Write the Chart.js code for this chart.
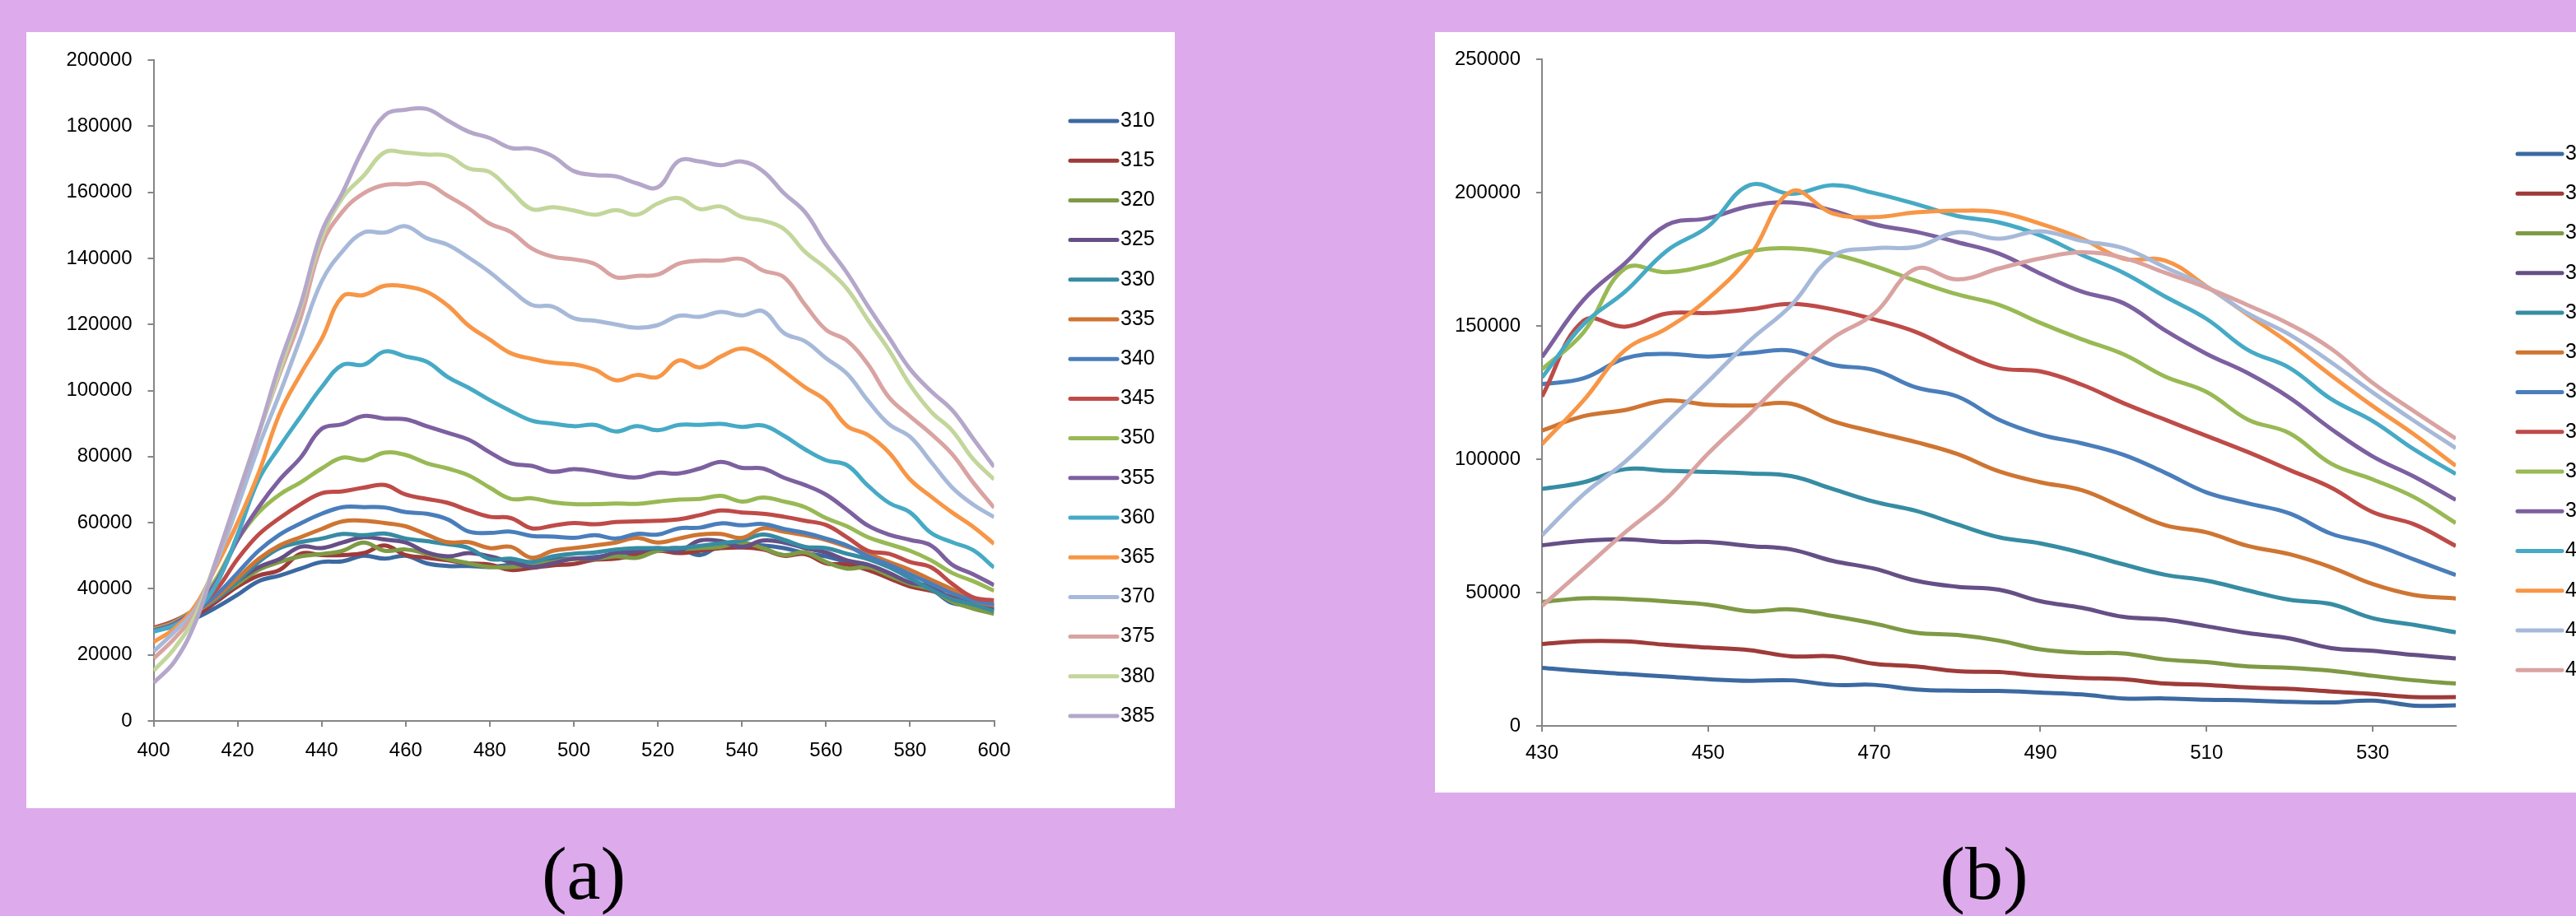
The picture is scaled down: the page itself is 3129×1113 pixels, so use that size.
<!DOCTYPE html>
<html>
<head>
<meta charset="utf-8">
<script src="https://cdn.jsdelivr.net/npm/chart.js@4.4.0/dist/chart.umd.min.js"></script>
<style>
  html, body { margin: 0; padding: 0; width: 3129px; height: 1113px; overflow: hidden; background: #DDAAEC; }
  .box { position: absolute; background: #fff; overflow: hidden; }
  #boxA { left: 32px; top: 39px; width: 1395px; height: 943px; }
  #boxB { left: 1743px; top: 39px; width: 1457px; height: 924px; }
  .tag { position: absolute; top: 1015px; width: 200px; text-align: center;
         font-family: "Liberation Serif", "Times New Roman", serif; font-size: 92px; line-height: 92px; color: #000; }
</style>
</head>
<body>
<div class="box" id="boxA"><canvas id="chartA" width="1395" height="943"></canvas></div>
<div class="box" id="boxB"><canvas id="chartB" width="1457" height="924"></canvas></div>
<div class="tag" style="left:609px">(a)</div>
<div class="tag" style="left:2310px">(b)</div>
<script>
// Panel (a): emission 400-600 nm, one series per excitation wavelength
const emA = [400,405,410,415,420,425,430,435,440,445,450,455,460,465,470,475,480,485,490,495,500,
             505,510,515,520,525,530,535,540,545,550,555,560,565,570,575,580,585,590,595,600];
const xTicksA = [400,420,440,460,480,500,520,540,560,580,600];
const yTicksA = [0,20000,40000,60000,80000,100000,120000,140000,160000,180000,200000];

const a310 = [27400,28600,31100,34400,38200,42300,44000,46100,48100,48300,50000,49100,50000,47700,46900,46900,46600,47300,48100,49000,49100,49600,50600,51000,51600,52300,50200,53100,53100,53100,52300,50800,49800,48100,46500,44400,41100,39800,35700,35300,34900];
const a315 = [27600,29900,32000,36100,40700,44000,45700,50600,50200,50200,50800,53100,50200,49400,48600,47700,47300,45700,46300,47100,47500,48800,49100,50200,51500,50800,51500,52300,52500,51900,50000,50500,47700,47300,45700,43200,40700,39400,37400,35300,33600];
const a320 = [27800,29900,33600,37400,41500,45700,48100,49800,50500,51500,54000,51500,51900,50600,49000,47700,46600,46600,47300,48100,49000,49000,49800,49400,51500,51900,52300,52700,54000,52300,50200,51000,48100,46100,46500,44000,41500,39800,36100,34000,32400];
const a325 = [27400,29500,32800,36900,42300,46500,49000,52700,52300,54000,55600,54900,54000,51000,49800,50800,49800,48100,46600,47700,49100,49100,51000,51300,52300,51500,54600,54400,52700,54600,54000,52300,51000,48600,47300,44800,41900,40700,36900,35700,34000];
const a330 = [27800,30300,33200,36900,42300,48100,52300,54100,55200,56600,56200,56700,55200,54400,53500,52300,49000,49100,48100,49800,50600,51000,51900,52300,52300,52300,53000,53800,54600,56400,54800,52700,52300,50600,49000,46500,43200,39800,36900,35300,33200];
const a335 = [27400,29500,32800,37400,43200,49000,53100,55600,58100,60400,60600,59900,58900,56400,54100,54100,52300,52700,49400,51500,52300,53100,54000,55400,54000,55200,56400,56600,55400,58300,57300,56200,54800,52700,50600,48100,45700,42700,39800,36500,34900];
const a340 = [27800,29900,33200,38200,44800,51500,56400,59800,62700,64700,64700,64600,63200,62700,61000,57300,56900,57300,56000,55800,55400,56200,55200,56600,56400,58300,58500,59800,59200,59600,58100,56900,55200,53100,49800,47300,44400,41500,38600,36500,35300];
const a345 = [28200,30300,34000,39800,49000,56400,61400,65600,68900,69500,70600,71400,68500,67200,66000,63700,61800,61400,58300,59100,59900,59500,60200,60400,60600,61000,62300,63700,63100,62700,61800,60600,59300,55600,51500,50600,48100,46500,41500,37400,36500];
const a350 = [27800,29900,34400,43200,54800,63100,68500,72200,76400,79700,78900,81200,80500,78000,76400,74300,70600,67200,67400,66200,65600,65600,65800,65700,66400,67000,67200,68100,66400,67600,66400,64700,61400,58900,55600,53500,51500,48600,44800,42300,39400];
const a355 = [27400,29500,34000,42300,54800,64700,73000,79700,88400,89800,92300,91500,91300,89200,87200,85100,81300,78000,77200,75400,76200,75500,74300,73700,75100,74900,76400,78400,76600,76400,73600,71400,68500,63900,59100,56400,54800,53100,47300,44400,41100];
const a360 = [27000,29000,33200,41500,56400,73000,83000,92100,101000,107800,107800,111800,110300,108700,104100,100800,97100,93800,90900,90000,89200,89600,87600,89200,88000,89600,89600,89900,89000,89400,86300,82200,78900,77400,71200,66000,63100,56900,54100,51700,46400];
const a365 = [23900,28000,35000,47000,60000,75000,93000,105000,115600,128500,128900,131700,131500,129900,125700,119600,115400,111300,109600,108400,107900,106300,103100,104700,104100,109100,107000,110300,112700,110300,105800,101000,96900,89300,86500,81200,73100,67900,63100,58800,53600];
const a370 = [21000,27000,34000,48000,65000,83000,99000,116000,133000,142200,147800,147800,149700,146100,144100,140200,135800,130600,125900,125400,121900,121100,120000,119000,119800,122600,122300,123800,122700,124000,117400,114900,109800,105100,96900,89800,86000,78400,70700,65500,61700];
const a375 = [18900,25000,33000,49000,68000,87000,105000,122000,144000,154200,159700,162200,162400,162600,158900,155100,150500,148000,143000,140500,139700,138300,134300,134700,135100,138400,139300,139300,139800,136300,134300,126000,118400,115100,107900,97900,92200,86900,80800,72200,64500];
const a380 = [15200,22000,32000,49000,68000,87000,106000,125000,146000,158400,165000,172100,172000,171400,171000,167200,166100,160400,154900,155500,154500,153200,154600,153200,156600,158200,154900,155700,152500,151400,148900,142000,137000,130800,121300,112200,101700,93600,87900,79300,73100];
const a385 = [11500,18000,30000,49000,68000,87000,108000,126000,148000,160000,173400,183300,185000,185200,181700,178300,176400,173400,173200,170900,166400,165200,164800,162700,161500,169500,169300,168200,169300,166400,159700,154000,144200,135600,125500,116000,106500,99800,94100,85500,76900];

const namesA = ['310','315','320','325','330','335','340','345','350','355','360','365','370','375','380','385'];
const seriesA = [a310,a315,a320,a325,a330,a335,a340,a345,a350,a355,a360,a365,a370,a375,a380,a385];

// Panel (b): emission 430-540 nm
const emB = [430,435,440,445,450,455,460,465,470,475,480,485,490,495,500,505,510,515,520,525,530,535,540];
const xTicksB = [430,450,470,490,510,530];
const yTicksB = [0,50000,100000,150000,200000,250000];

const b350 = [21800,20500,19500,18500,17500,16900,17100,15400,15400,13700,13200,13100,12500,11800,10300,10300,9800,9600,9000,8800,9500,7600,7700];
const b355 = [30700,31800,31700,30400,29400,28400,26100,26100,23300,22300,20500,20200,18800,18000,17500,15900,15400,14400,13900,12900,12000,10800,10800];
const b360 = [46500,47900,47600,46700,45500,43000,43700,41200,38400,35000,34100,32000,28700,27400,27200,24900,23900,22300,21800,20700,18800,17100,15900];
const b365 = [67800,69400,70000,69000,69000,67500,66200,61900,59000,54500,52200,51100,46800,44300,40900,39900,37400,34800,32800,29200,28200,26600,25300];
const b370 = [88900,91400,96300,95700,95300,94700,93700,88900,84100,80700,75600,70800,68500,64900,60600,56700,54500,50800,47300,45700,40400,37900,35100];
const b375 = [110800,116200,118500,122100,120500,120200,120900,114400,110300,106500,102000,95500,91400,88400,81800,75300,72600,67500,64400,59500,53200,49100,47800];
const b380 = [128200,130400,137900,139600,138600,139900,140800,135500,133500,127000,123600,114900,109300,106000,101700,95000,87600,83500,79700,72100,68200,62400,56600];
const b385 = [123600,152000,149800,154700,154900,156300,158300,156300,152500,147800,140400,134300,133000,128000,121100,114900,108800,102700,96000,89400,80200,75600,67500];
const b390 = [133800,147600,171600,170200,172900,178000,179200,177000,172600,167000,161900,158000,151200,145000,139400,131100,125300,114900,109800,98400,92500,85800,76100];
const b395 = [138400,159800,173600,187900,190500,195000,196400,193300,188200,185400,181500,177200,169700,162900,158600,148400,139600,132300,123100,111400,101100,93500,84800];
const b400 = [130700,150700,162900,178200,187400,202900,199600,202900,199900,195800,191300,188900,184000,176700,170000,161100,152700,141000,134300,122600,114400,103700,94500];
const b405 = [105700,122100,141000,149100,160300,176200,200500,192300,190900,192700,193300,192700,188400,182800,175300,174600,164900,154200,143500,131500,120000,109300,97600];
const b410 = [71500,86900,99100,114000,129200,144500,157800,176200,179200,179700,185200,182800,185600,182000,179200,172100,164700,154700,146800,136400,125100,114400,104200];
const b415 = [45000,58800,72600,85300,102200,117000,132300,145500,154700,171500,167500,171600,175400,177700,175600,170000,164400,157800,150700,141500,128700,118000,107800];

const namesB = ['350','355','360','365','370','375','380','385','390','395','400','405','410','415'];
const seriesB = [b350,b355,b360,b365,b370,b375,b380,b385,b390,b395,b400,b405,b410,b415];

const palette = ['#3C69A1','#9E3B39','#7E9A45','#654F85','#368CA3','#CF7532',
                 '#4A7EBB','#BE4B48','#98B954','#7D60A0','#46AAC5','#F79646',
                 '#A7B9D9','#D9A3A2','#C3D69B','#B5A7CA'];

const tickFont = { family: '"Liberation Sans", Arial, sans-serif', size: 24 };
const axisGray = '#868686';

// Excel style legend: short line + label, drawn at a fixed column
const lineLegend = {
  id: 'lineLegend',
  afterDraw(chart, args, opts) {
    const ctx = chart.ctx;
    ctx.save();
    ctx.font = '25px "Liberation Sans", Arial, sans-serif';
    ctx.textBaseline = 'middle';
    ctx.lineCap = 'round';
    chart.data.datasets.forEach((ds, i) => {
      const y = opts.top + i * opts.step;
      ctx.strokeStyle = ds.borderColor;
      ctx.lineWidth = 5;
      ctx.beginPath();
      ctx.moveTo(opts.left, y);
      ctx.lineTo(opts.left + opts.len, y);
      ctx.stroke();
      ctx.fillStyle = '#000';
      ctx.fillText(ds.label, opts.left + opts.len + 4, y);
    });
    ctx.restore();
  }
};

function makeDatasets(xs, series, names) {
  return series.map((arr, i) => ({
    label: names[i],
    data: xs.map((x, j) => ({ x: x, y: arr[j] })),
    borderColor: palette[i],
    backgroundColor: palette[i],
    borderWidth: 5,
    pointRadius: 0,
    tension: 0.4,
    fill: false,
    order: series.length - i
  }));
}

function makeChart(id, cfg) {
  return new Chart(document.getElementById(id), {
    type: 'line',
    data: { datasets: makeDatasets(cfg.xs, cfg.series, cfg.names) },
    options: {
      responsive: false,
      animation: false,
      events: [],
      layout: { padding: cfg.padding },
      plugins: {
        legend: { display: false },
        tooltip: { enabled: false },
        lineLegend: cfg.legend
      },
      scales: {
        x: {
          type: 'linear',
          min: cfg.xMin, max: cfg.xMax,
          afterBuildTicks: s => { s.ticks = cfg.xTicks.map(v => ({ value: v })); },
          afterFit: s => { s.height = cfg.xHeight; },
          ticks: { font: tickFont, color: '#000', padding: cfg.xPad, maxRotation: 0, autoSkip: false,
                   callback: v => String(v) },
          grid: { drawOnChartArea: false, tickLength: 7, color: axisGray, lineWidth: 2 },
          border: { color: axisGray, width: 2 }
        },
        y: {
          min: 0, max: cfg.yMax,
          afterBuildTicks: s => { s.ticks = cfg.yTicks.map(v => ({ value: v })); },
          afterFit: s => { s.width = cfg.yWidth; },
          ticks: { font: tickFont, color: '#000', padding: 19, autoSkip: false,
                   callback: v => String(v) },
          grid: { drawOnChartArea: false, tickLength: 7, color: axisGray, lineWidth: 2 },
          border: { color: axisGray, width: 2 }
        }
      }
    },
    plugins: [lineLegend]
  });
}

makeChart('chartA', {
  xs: emA, series: seriesA, names: namesA,
  xMin: 400, xMax: 600, xTicks: xTicksA, yMax: 200000, yTicks: yTicksA,
  padding: { top: 34, right: 219.5, left: 0, bottom: 0 },
  yWidth: 154.5, xHeight: 106, xPad: 15,
  legend: { left: 1268, top: 108, step: 48.2, len: 57 }
});

makeChart('chartB', {
  xs: emB, series: seriesB, names: namesB,
  xMin: 430, xMax: 540, xTicks: xTicksB, yMax: 250000, yTicks: yTicksB,
  padding: { top: 27, right: 217, left: 0, bottom: 0 },
  yWidth: 130, xHeight: 81, xPad: 12,
  legend: { left: 1315, top: 148, step: 48.25, len: 54 }
});
</script>
</body>
</html>
